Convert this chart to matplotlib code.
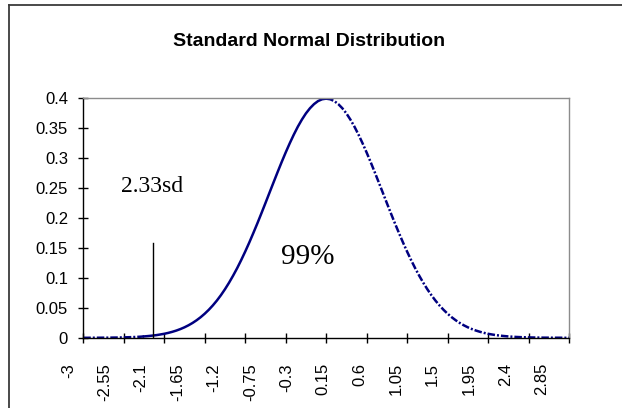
import matplotlib
matplotlib.use("Agg")
import matplotlib.pyplot as plt
from matplotlib.lines import Line2D
from matplotlib.transforms import ScaledTranslation, blended_transform_factory

# ---- data ----
categories = [round(-3 + 0.05 * i, 2) for i in range(121)]  # category labels -3 .. 3
# curve heights from the centre (peak) outwards, one per category
right_half = [0.3989, 0.3979, 0.3949, 0.3898, 0.3829, 0.3743, 0.3639, 0.3521, 0.3388, 0.3244,
              0.3091, 0.2930, 0.2763, 0.2592, 0.2420, 0.2247, 0.2076, 0.1908, 0.1746, 0.1588,
              0.1438, 0.1295, 0.1160, 0.1035, 0.0918, 0.0810, 0.0711, 0.0621, 0.0540, 0.0467,
              0.0402, 0.0344, 0.0293, 0.0248, 0.0209, 0.0175, 0.0146, 0.0121, 0.0100, 0.0082,
              0.0067, 0.0055, 0.0044, 0.0036, 0.0029, 0.0023, 0.0018, 0.0014, 0.0011, 0.0009,
              0.0007, 0.0005, 0.0004, 0.0003, 0.0002, 0.0002, 0.0001, 0.0001, 0.0001, 0.0000,
              0.0000]
density = right_half[::-1] + right_half[1:]
y_ticks = [0, 0.05, 0.1, 0.15, 0.2, 0.25, 0.3, 0.35, 0.4]
y_tick_labels = ["0", "0.05", "0.1", "0.15", "0.2", "0.25", "0.3", "0.35", "0.4"]
label_every = 9
tick_every = 10
cutoff_pos = 17.3      # category position of the 2.33sd marker line
cutoff_height = 0.158
title = "Standard Normal Distribution"
cutoff_text = "2.33sd"
area_text = "99%"

W, H = 622, 408
fig = plt.figure(figsize=(W / 100, H / 100), dpi=100)
fig.patch.set_facecolor("white")

# chart-area border (top and left visible)
fig.add_artist(Line2D([9 / W, 9 / W], [0, 1 - 5 / H], transform=fig.transFigure,
                      color="#3a3a3a", lw=1.3))
fig.add_artist(Line2D([9 / W, 1], [1 - 5 / H, 1 - 5 / H], transform=fig.transFigure,
                      color="#3a3a3a", lw=1.3))

left, right, top, bottom = 83.3, 569, 98, 337.8
ax = fig.add_axes([left / W, 1 - bottom / H, (right - left) / W, (bottom - top) / H])

xs = list(range(len(density)))
navy = "#000080"
dashdot = (0, (3, 0.8, 0.8, 0.8))
ax.plot(xs[0:16], density[0:16], color=navy, lw=1.8, linestyle=dashdot)
ax.plot(xs[15:61], density[15:61], color=navy, lw=1.8)
ax.plot(xs[60:], density[60:], color=navy, lw=1.8, linestyle=dashdot)

ax.set_xlim(0, len(density) - 1)
ax.set_ylim(0, 0.4)

for s in ["top", "right"]:
    ax.spines[s].set_color("#8c8c8c")
    ax.spines[s].set_linewidth(1.0)
for s in ["left", "bottom"]:
    ax.spines[s].set_color("black")
    ax.spines[s].set_linewidth(1.0)

ax.set_yticks(y_ticks)
ax.set_yticklabels(y_tick_labels, fontfamily="Liberation Sans", fontsize=12)
ax.tick_params(axis="y", direction="inout", length=7, width=1, pad=7.5)
ax.set_xticks(list(range(0, len(density), tick_every)))
ax.set_xticklabels([])
ax.tick_params(axis="x", direction="inout", length=7, width=1)

# category labels (rotated, shifted as in the original)
trans = blended_transform_factory(ax.transData, fig.transFigure) + \
    ScaledTranslation(-15 / 100, 0, fig.dpi_scale_trans)
for i in range(0, len(categories), label_every):
    lab = "%g" % categories[i]
    ax.text(i, 1 - 363 / H, lab, transform=trans, rotation=90, ha="center", va="top",
            fontfamily="Liberation Sans", fontsize=12, clip_on=False)

# marker line and annotations
ax.plot([cutoff_pos, cutoff_pos], [0, cutoff_height], color="black", lw=1.0)
ax.text(16.96, 0.2517, cutoff_text, ha="center", va="center",
        fontfamily="Liberation Serif", fontsize=17)
ax.text(55.5, 0.135, area_text, ha="center", va="center",
        fontfamily="Liberation Serif", fontsize=21)

fig.text(309.5 / W, 1 - 41.7 / H, title, ha="center", va="center",
         fontfamily="Liberation Sans", fontweight="bold", fontsize=14)

fig.savefig("out.png", dpi=100)
